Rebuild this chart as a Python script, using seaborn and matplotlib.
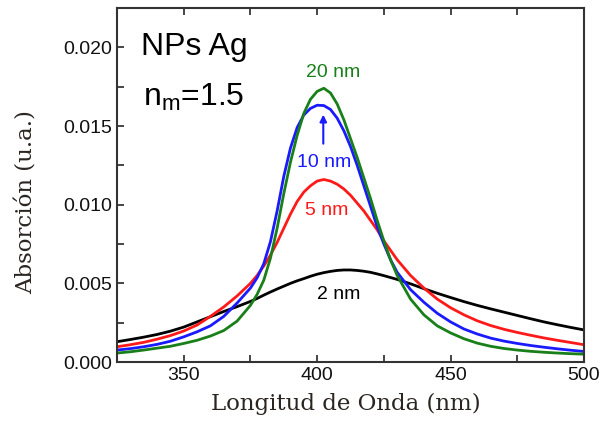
import pandas as pd
import seaborn as sns
import matplotlib.pyplot as plt
from matplotlib.ticker import MultipleLocator, FormatStrFormatter

# wavelengths (nm), finer steps around the plasmon peak
wavelength = [325, 330, 335, 340, 345, 350, 355, 360, 365, 370, 375, 377.5, 380, 382.5,
              385, 387.5, 390, 392.5, 395, 397.5, 400, 402.5, 405, 407.5, 410, 412.5,
              415, 417.5, 420, 422.5, 425, 427.5, 430, 435, 440, 445, 450, 455, 460,
              465, 470, 475, 480, 485, 490, 495, 500]

# absorbance
abs_2nm = [0.00129, 0.00143, 0.00158, 0.00175, 0.00196, 0.00222, 0.00255, 0.00288, 0.00321,
           0.00352, 0.00385, 0.00404, 0.00425, 0.00445, 0.00464, 0.00482, 0.00500, 0.00516,
           0.00530, 0.00545, 0.00558, 0.00568, 0.00576, 0.00582, 0.00585, 0.00585, 0.00582,
           0.00577, 0.00570, 0.00560, 0.00549, 0.00537, 0.00525, 0.00497, 0.00466, 0.00437,
           0.00410, 0.00384, 0.00360, 0.00338, 0.00317, 0.00296, 0.00275, 0.00255, 0.00237,
           0.00220, 0.00204]
abs_5nm = [0.00097, 0.00110, 0.00125, 0.00145, 0.00168, 0.00197, 0.00235, 0.00290, 0.00350,
           0.00420, 0.00500, 0.00550, 0.00610, 0.00680, 0.00760, 0.00850, 0.00940, 0.01020,
           0.01080, 0.01120, 0.01150, 0.01160, 0.01150, 0.01130, 0.01100, 0.01060, 0.01010,
           0.00960, 0.00900, 0.00840, 0.00770, 0.00710, 0.00650, 0.00550, 0.00470, 0.00400,
           0.00345, 0.00300, 0.00262, 0.00232, 0.00208, 0.00188, 0.00170, 0.00153, 0.00138,
           0.00124, 0.00110]
abs_10nm = [0.00076, 0.00085, 0.00097, 0.00112, 0.00132, 0.00160, 0.00192, 0.00230, 0.00290,
            0.00375, 0.00470, 0.00535, 0.00625, 0.00765, 0.00960, 0.01180, 0.01360, 0.01490,
            0.01570, 0.01612, 0.01632, 0.01630, 0.01605, 0.01550, 0.01470, 0.01370, 0.01250,
            0.01120, 0.00990, 0.00860, 0.00750, 0.00650, 0.00570, 0.00460, 0.00380, 0.00310,
            0.00255, 0.00210, 0.00178, 0.00152, 0.00133, 0.00118, 0.00105, 0.00094, 0.00084,
            0.00075, 0.00067]
abs_20nm = [0.00057, 0.00065, 0.00076, 0.00088, 0.00100, 0.00118, 0.00138, 0.00165, 0.00200,
            0.00260, 0.00360, 0.00430, 0.00520, 0.00660, 0.00850, 0.01070, 0.01270, 0.01440,
            0.01580, 0.01670, 0.01720, 0.01740, 0.01710, 0.01640, 0.01540, 0.01420, 0.01300,
            0.01170, 0.01040, 0.00900, 0.00770, 0.00650, 0.00550, 0.00400, 0.00300, 0.00230,
            0.00185, 0.00148, 0.00120, 0.00100, 0.00086, 0.00076, 0.00068, 0.00062, 0.00057,
            0.00053, 0.00050]

sizes = ["2 nm", "5 nm", "10 nm", "20 nm"]
colors = ["#000000", "#ff1a1a", "#1a1aff", "#198019"]

df = pd.DataFrame({"wavelength": wavelength, "2 nm": abs_2nm, "5 nm": abs_5nm,
                   "10 nm": abs_10nm, "20 nm": abs_20nm})
df = df.melt(id_vars="wavelength", var_name="size", value_name="absorcion")

sns.set_style("ticks")
plt.rcParams["font.family"] = ["Liberation Sans", "DejaVu Sans"]
plt.rcParams["mathtext.default"] = "regular"
plt.rcParams["text.color"] = "black"

fig = plt.figure(figsize=(6.01, 4.30), dpi=100)
ax = fig.add_axes([0.1947, 0.1581, 0.777, 0.8233])

sns.lineplot(data=df, x="wavelength", y="absorcion", hue="size", hue_order=sizes,
             palette=colors, linewidth=2.0, legend=False, ax=ax, sort=False)

ax.set_xlim(325, 500)
ax.set_ylim(0, 0.0225)
ax.set_xticks([350, 400, 450, 500])
ax.xaxis.set_minor_locator(MultipleLocator(25))
ax.set_yticks([0, 0.005, 0.010, 0.015, 0.020])
ax.yaxis.set_minor_locator(MultipleLocator(0.0025))
ax.yaxis.set_major_formatter(FormatStrFormatter("%.3f"))
ax.tick_params(which="both", direction="in", length=5, width=1.2, top=True, right=False,
               labelsize=14, labelcolor="#111111")
for sp in ax.spines.values():
    sp.set_linewidth(1.5)
    sp.set_color("#333333")

ax.set_xlabel("Longitud de Onda (nm)", family="DejaVu Serif", fontsize=16.5, color="#2a2520")
ax.set_ylabel("Absorción (u.a.)", family="DejaVu Serif", fontsize=16.5, color="#2a2520")
ax.xaxis.set_label_coords(0.491, -0.088)
ax.yaxis.set_label_coords(-0.171, 0.452)

ax.text(353.8, 0.0200, "NPs Ag", fontsize=23, ha="center", va="center", color="black")
ax.text(353.8, 0.0168, "n$_m$=1.5", fontsize=23, ha="center", va="center", color="black")

ax.text(405.9, 0.01842, "20 nm", color=colors[3], fontsize=14, ha="center", va="center")
ax.text(402.5, 0.0127, "10 nm", color=colors[2], fontsize=14, ha="center", va="center")
ax.text(403.7, 0.00966, "5 nm", color=colors[1], fontsize=14, ha="center", va="center")
ax.text(408.1, 0.00432, "2 nm", color=colors[0], fontsize=14, ha="center", va="center")
ax.annotate("", xy=(402.3, 0.0159), xytext=(402.3, 0.0137),
            arrowprops=dict(arrowstyle="-|>", color=colors[2], lw=1.5, mutation_scale=10))

fig.savefig("out.png", dpi=100)
